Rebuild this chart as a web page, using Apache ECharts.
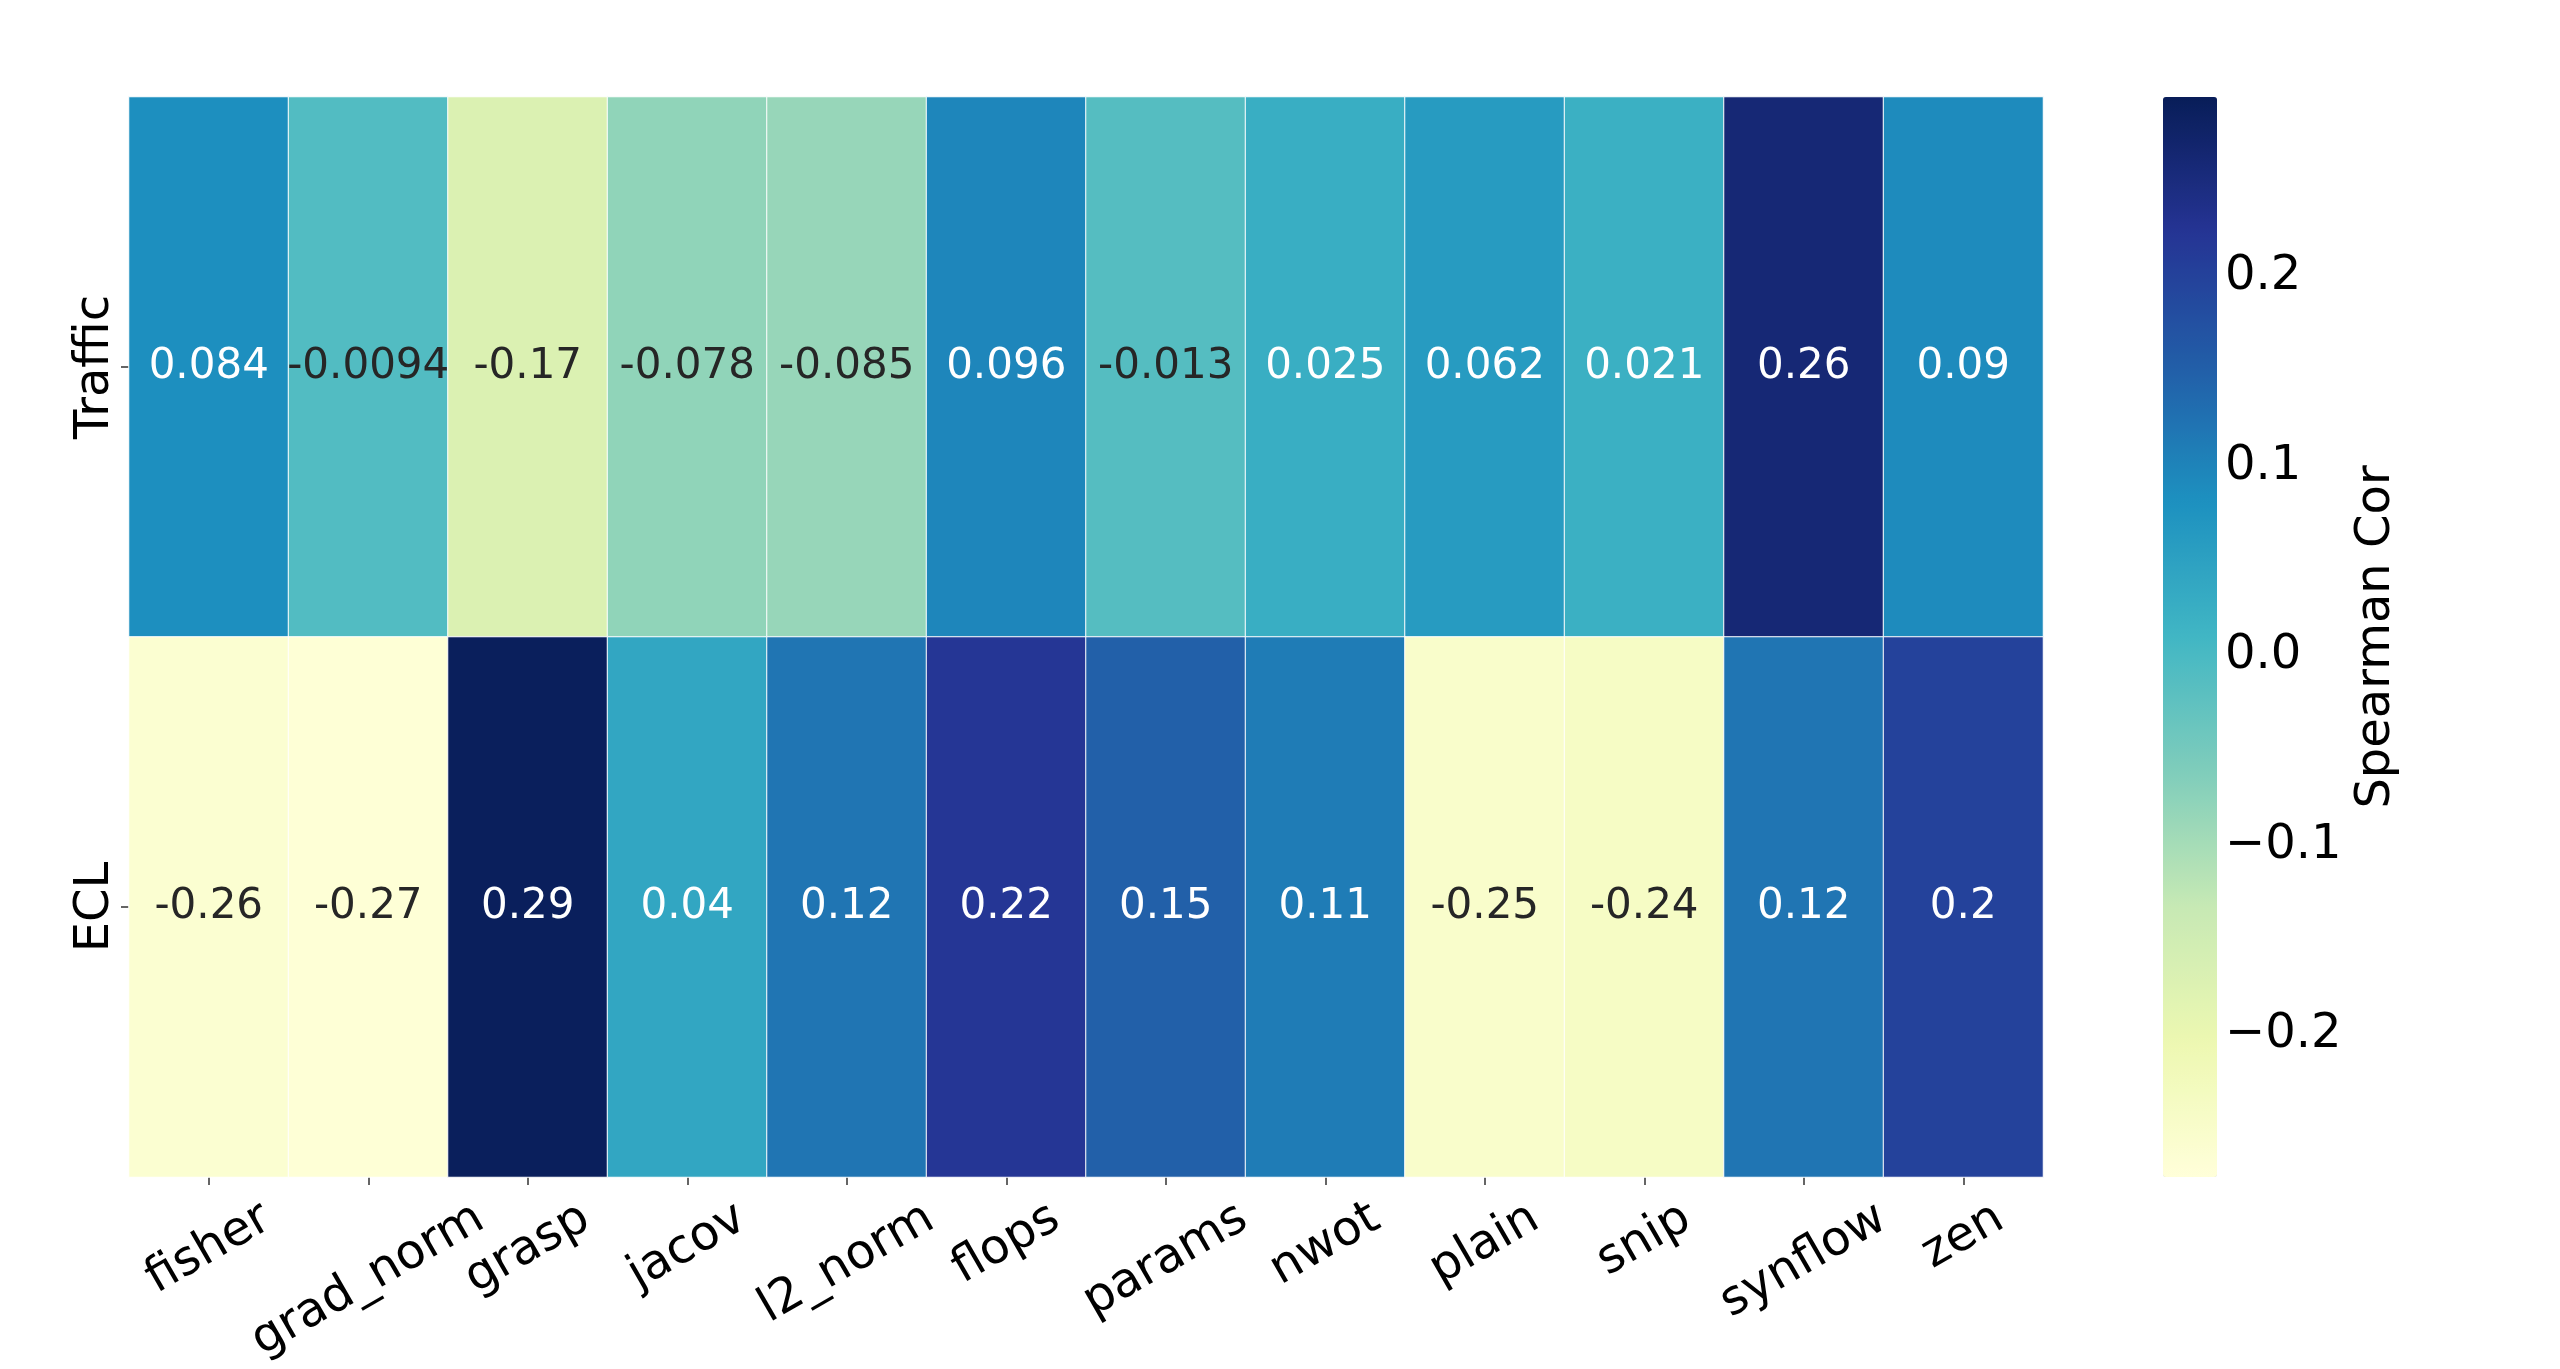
<!DOCTYPE html>
<html>
<head>
<meta charset="utf-8">
<script src="https://cdn.jsdelivr.net/npm/echarts@6/dist/echarts.min.js"></script>
<style>
html,body{margin:0;padding:0;background:#fff;}
#chart{width:2560px;height:1369px;}
</style>
</head>
<body>
<div id="chart"></div>
<script>
// ---- data ----
const metrics = ['fisher','grad_norm','grasp','jacov','l2_norm','flops','params','nwot','plain','snip','synflow','zen'];
const datasets = ['Traffic','ECL'];
const traffic = [0.084, -0.0094, -0.17, -0.078, -0.085, 0.096, -0.013, 0.025, 0.062, 0.021, 0.26, 0.09];
const ecl = [-0.26, -0.27, 0.29, 0.04, 0.12, 0.22, 0.15, 0.11, -0.25, -0.24, 0.12, 0.2];
const colorbarTicks = [-0.2, -0.1, 0.0, 0.1, 0.2];
const colorMin = -0.275, colorMax = 0.295;

// ---- style ----
const FONT = '"DejaVu Sans", sans-serif';
const ylgnbu = ['#ffffd9','#edf8b1','#c7e9b4','#7fcdbb','#41b6c4','#1d91c0','#225ea8','#253494','#081d58'];
const G = {left:129, top:97, width:1914, height:1080};
const CB = {left:2163, top:97, width:54, height:1080};
const TICK_FS = 48, ANNOT_FS = 42, LH = 56;

function labelColor(v){
  const t = Math.max(0, Math.min(1, (v - colorMin) / (colorMax - colorMin)));
  const c = echarts.color.parse(echarts.color.lerp(t, ylgnbu));
  const lin = x => { x /= 255; return x <= 0.03928 ? x/12.92 : Math.pow((x+0.055)/1.055, 2.4); };
  const lum = 0.2126*lin(c[0]) + 0.7152*lin(c[1]) + 0.0722*lin(c[2]);
  return lum > 0.408 ? '#262626' : '#ffffff';
}

const rows = [traffic, ecl];
const heatData = [];
rows.forEach((row, yi) => row.forEach((v, xi) => {
  heatData.push({value:[xi, yi, v], label:{color: labelColor(v)}});
}));

// rotated x labels centred like matplotlib (ha=center, rotation=30)
const cvs = document.createElement('canvas').getContext('2d');
cvs.font = TICK_FS + 'px "DejaVu Sans"';
const rich = {};
metrics.forEach((m, i) => {
  const L = cvs.measureText(m).width;
  const D = (L*0.5 + LH*0.866) / 2;
  rich['l'+i] = {fontSize:TICK_FS, fontFamily:FONT, color:'#000', lineHeight:LH,
                 padding:[1.732*D, D, 0, 0]};
});

const chart = echarts.init(document.getElementById('chart'), null, {renderer:'canvas'});
chart.setOption({
  backgroundColor:'#fff',
  animation:false,
  grid:[
    {left:G.left, top:G.top, width:G.width, height:G.height, containLabel:false},
    {left:CB.left, top:CB.top, width:CB.width, height:CB.height, containLabel:false}
  ],
  xAxis:[
    {type:'category', gridIndex:0, data:metrics, position:'bottom',
     axisLine:{show:false},
     axisTick:{show:true, alignWithLabel:true, length:8, lineStyle:{color:'#333', width:1.5}},
     axisLabel:{rotate:30, align:'center', verticalAlign:'middle', margin:14, interval:0,
       formatter:(v, i) => '{l'+i+'|'+v+'}', rich:rich},
     splitLine:{show:false}},
    {type:'value', gridIndex:1, show:false, min:0, max:1}
  ],
  yAxis:[
    {type:'category', gridIndex:0, data:datasets, inverse:true,
     axisLine:{show:false},
     axisTick:{show:true, alignWithLabel:true, length:8, lineStyle:{color:'#333', width:1.5}},
     axisLabel:{rotate:90, align:'center', verticalAlign:'bottom', margin:9,
       fontSize:TICK_FS, fontFamily:FONT, color:'#000', lineHeight:48},
     splitLine:{show:false}},
    {type:'value', gridIndex:1, position:'right', min:colorMin, max:colorMax,
     axisLine:{show:false},
     axisTick:{show:true, length:8, customValues:colorbarTicks, lineStyle:{color:'#333', width:1.5}},
     axisLabel:{show:true, margin:8, customValues:colorbarTicks, padding:[10,0,0,0],
       fontSize:TICK_FS, fontFamily:FONT, color:'#000',
       formatter:v => (v < -1e-9 ? '\u2212' : '') + Math.abs(v).toFixed(1)},
     splitLine:{show:false},
     name:'Spearman Cor', nameLocation:'middle', nameRotate:90, nameGap:136,
     nameTextStyle:{fontSize:TICK_FS, fontFamily:FONT, color:'#000'}}
  ],
  visualMap:{
    type:'continuous', min:colorMin, max:colorMax, dimension:2, seriesIndex:0,
    orient:'vertical', left:CB.left, top:CB.top, itemWidth:CB.width, itemHeight:CB.height,
    calculable:false, showLabel:false, text:null, padding:0, hoverLink:false,
    inRange:{color:ylgnbu}
  },
  series:[{
    type:'heatmap', xAxisIndex:0, yAxisIndex:0, data:heatData,
    itemStyle:{borderColor:'#ffffff', borderWidth:1},
    label:{show:true, fontSize:ANNOT_FS, fontFamily:FONT,
      formatter:p => String(p.value[2])},
    emphasis:{disabled:true}
  }]
});
</script>
</body>
</html>
